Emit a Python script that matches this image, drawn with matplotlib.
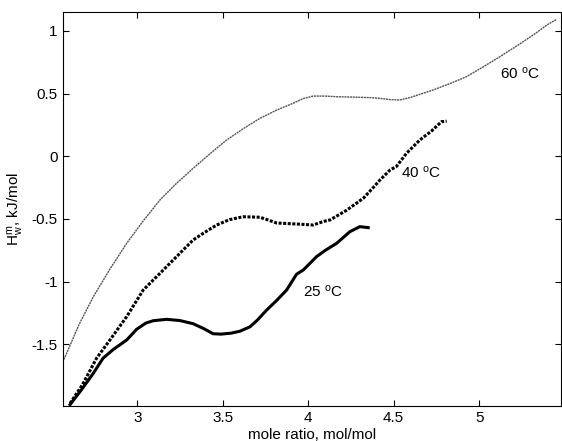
import matplotlib
matplotlib.use("Agg")
import matplotlib.pyplot as plt

# -----------------------------------------------------
# Data
# -----------------------------------------------------
x_25 = [2.607, 2.68, 2.743, 2.80, 2.86, 2.938, 2.996, 3.05, 3.094, 3.172, 3.25,
        3.327, 3.39, 3.444, 3.49, 3.55, 3.60, 3.659, 3.70, 3.757, 3.815, 3.874,
        3.932, 3.971, 4.049, 4.10, 4.166, 4.244, 4.302, 4.351]
y_25 = [-1.98, -1.85, -1.73, -1.61, -1.54, -1.465, -1.38, -1.33, -1.311, -1.30, -1.31,
        -1.335, -1.375, -1.415, -1.418, -1.41, -1.395, -1.36, -1.31, -1.226, -1.15, -1.066,
        -0.94, -0.907, -0.80, -0.75, -0.694, -0.601, -0.561, -0.569]

x_40 = [2.607, 2.68, 2.762, 2.84, 2.938, 3.035, 3.133, 3.23, 3.327, 3.386, 3.464,
        3.54, 3.62, 3.718, 3.77, 3.815, 3.932, 4.029, 4.088, 4.127, 4.225, 4.322,
        4.38, 4.419, 4.478, 4.517, 4.575, 4.653, 4.72, 4.78, 4.81]
y_40 = [-1.97, -1.82, -1.61, -1.465, -1.279, -1.066, -0.933, -0.80, -0.667, -0.614, -0.548,
        -0.505, -0.482, -0.486, -0.51, -0.532, -0.54, -0.548, -0.52, -0.508, -0.43, -0.335,
        -0.25, -0.19, -0.11, -0.08, 0.024, 0.13, 0.2, 0.276, 0.28]

x_60 = [2.564, 2.587, 2.66, 2.743, 2.84, 2.938, 3.035, 3.133, 3.23, 3.327, 3.425,
        3.523, 3.62, 3.718, 3.815, 3.912, 3.97, 4.029, 4.10, 4.166, 4.26, 4.36,
        4.42, 4.478, 4.536, 4.60, 4.731, 4.83, 4.926, 5.02, 5.121, 5.22, 5.316,
        5.40, 5.453]
y_60 = [-1.64, -1.571, -1.34, -1.12, -0.90, -0.694, -0.515, -0.348, -0.215, -0.096, 0.02,
        0.13, 0.22, 0.303, 0.368, 0.423, 0.46, 0.48, 0.48, 0.475, 0.472, 0.468,
        0.462, 0.452, 0.449, 0.47, 0.529, 0.58, 0.635, 0.71, 0.794, 0.88, 0.967,
        1.05, 1.092]

x_ticks = [3, 3.5, 4, 4.5, 5]
y_ticks = [-1.5, -1, -0.5, 0, 0.5, 1]

# -----------------------------------------------------
# Style
# -----------------------------------------------------
plt.rcParams["font.family"] = ["Liberation Sans", "DejaVu Sans"]
plt.rcParams["mathtext.fontset"] = "custom"
plt.rcParams["mathtext.rm"] = "Liberation Sans"
plt.rcParams["mathtext.it"] = "Liberation Sans"
plt.rcParams["font.size"] = 11

fig = plt.figure(figsize=(5.62, 4.41), dpi=100)
ax = fig.add_axes([0.1116, 0.0794, 0.8864, 0.8941])

ax.plot(x_60, y_60, color="#555555", lw=1.0, linestyle=(0, (1.5, 0.5)))
ax.plot(x_40, y_40, color="black", lw=2.2, linestyle=(0, (1.0, 0.5)))
ax.plot(x_25, y_25, color="black", lw=2.2)

ax.text(5.12, 0.66, r"60 $^{\rm o}$C", va="center", ha="left")
ax.text(4.545, -0.13, r"40 $^{\rm o}$C", va="center", ha="left")
ax.text(3.97, -1.08, r"25 $^{\rm o}$C", va="center", ha="left")

ax.set_xlim(2.564, 5.478)
ax.set_ylim(-1.991, 1.153)
ax.set_xticks(x_ticks)
ax.set_xticklabels(["3", "3.5", "4", "4.5", "5"])
ax.set_yticks(y_ticks)
ax.set_yticklabels(["-1.5", "-1", "-0.5", "0", "0.5", "1"])
ax.tick_params(direction="in", length=4, top=True, right=True, width=0.8)

ax.set_xlabel("mole ratio, mol/mol", labelpad=2)
ax.set_ylabel(r"H$_{\rm w}^{\rm m}$, kJ/mol", labelpad=4)

plt.savefig("out.png", dpi=100)
plt.close()
